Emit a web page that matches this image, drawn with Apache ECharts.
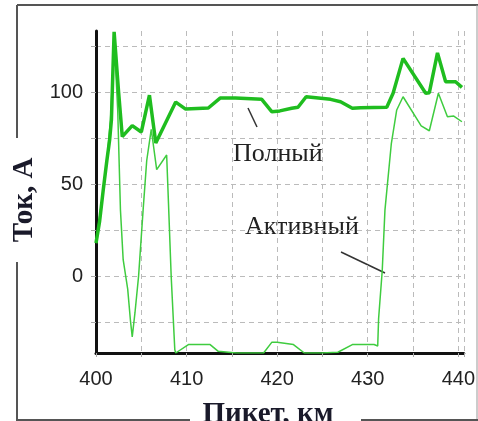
<!DOCTYPE html>
<html>
<head>
<meta charset="utf-8">
<script src="https://cdn.jsdelivr.net/npm/echarts@6/dist/echarts.min.js"></script>
<style>
  html, body { margin: 0; padding: 0; background: #fff; }
  #chart { width: 478px; height: 421px; }
</style>
</head>
<body>
<div id="chart"></div>
<script>
// Полный ток
const fullKm = [400, 400.4, 400.8, 401.2, 401.5, 401.7, 402, 402.5, 402.9, 404, 405, 405.9, 406.6, 408.8, 409.9, 412.4, 413.7, 415.4, 418.3, 419.4, 420.3, 421.6, 422.3, 423.2, 425.9, 427, 428.3, 429.2, 432.1, 432.8, 433.9, 436.4, 436.8, 437.7, 438.6, 439.7, 440.4];
const fullAmp = [18, 30, 47, 63, 74, 85, 133, 100, 76, 82, 78.5, 98.6, 72.5, 94.8, 91, 91.6, 97, 97, 96.3, 89.6, 90, 91.4, 92, 97.7, 96.3, 95, 91.4, 91.7, 92, 99.6, 118.6, 99.6, 99.9, 121.6, 105.9, 105.9, 102.8];
// Активный ток
const activeKm = [400, 400.8, 401.2, 401.6, 402, 402.2, 402.4, 402.7, 403, 403.5, 403.8, 404, 404.3, 404.7, 405.2, 405.6, 406.1, 406.7, 407.8, 408, 408.3, 408.7, 408.8, 410.2, 412.6, 413.5, 415.5, 418.5, 419.4, 420, 421.8, 423, 424.9, 426.7, 428.3, 430.7, 431.1, 431.2, 431.6, 431.9, 432.6, 433.2, 433.9, 435.9, 436.8, 437.8, 438.8, 439.5, 440.4];
const activeAmp = [18, 47, 63, 85, 125, 110, 90, 36, 9, -7, -24, -33, -20, 0, 36, 63, 80, 58, 66, 40, 0, -40, -41.8, -37.2, -37.2, -40.9, -41.8, -41.8, -36, -36, -37.2, -41.8, -41.8, -41.4, -37.2, -37.2, -38, -23, 3, 36, 72, 90.5, 97.7, 81.8, 79.2, 99.6, 86.8, 87.2, 84.1];

const xTicks = [400, 410, 420, 430, 440];
const yTicks = [0, 50, 100];
const yGrid = [-25, 0, 25, 50, 75, 100, 125];

const chart = echarts.init(document.getElementById('chart'));

const pairs = (xs, ys) => xs.map((x, i) => [x, ys[i]]);
const serif = '"Liberation Serif", "DejaVu Serif", serif';
const frame = '#555';

chart.setOption({
    backgroundColor: '#fff',
    animation: false,
    grid: { left: 96, right: 8, top: 31, bottom: 68 },
    xAxis: {
        type: 'value',
        min: 400,
        max: 440.6,
        interval: 5,
        axisLine: { onZero: false, lineStyle: { color: '#111', width: 3 } },
        axisTick: { show: true, length: 5, lineStyle: { color: '#aaa', type: 'dashed' } },
        axisLabel: {
            margin: 16,
            fontFamily: '"Liberation Sans", Arial, sans-serif',
            fontSize: 20,
            color: '#222',
            formatter: v => xTicks.includes(v) ? String(v) : ''
        },
        splitLine: { show: true, lineStyle: { color: '#bbb', type: [5, 4], width: 1 } }
    },
    yAxis: {
        type: 'value',
        min: -41.8,
        max: 133.5,
        axisLine: { show: true, lineStyle: { color: '#111', width: 3 } },
        axisTick: { show: true, length: 5, customValues: yGrid, lineStyle: { color: '#aaa' } },
        axisLabel: {
            customValues: yTicks,
            margin: 13,
            fontFamily: '"Liberation Sans", Arial, sans-serif',
            fontSize: 20,
            color: '#222'
        },
        splitLine: { show: true, lineStyle: { color: '#bbb', type: [5, 4], width: 1 } }
    },
    series: [
        {
            name: 'Полный',
            type: 'line',
            data: pairs(fullKm, fullAmp),
            symbol: 'none',
            lineStyle: { color: '#1fbd1f', width: 3.5 },
            z: 3
        },
        {
            name: 'Активный',
            type: 'line',
            data: pairs(activeKm, activeAmp),
            symbol: 'none',
            lineStyle: { color: '#3fcc3f', width: 1.5 },
            z: 2
        }
    ],
    graphic: [
        // рамка
        { type: 'line', shape: { x1: 17, y1: 5, x2: 478, y2: 5 }, style: { stroke: frame, lineWidth: 2 } },
        { type: 'line', shape: { x1: 477, y1: 5, x2: 477, y2: 421 }, style: { stroke: '#999', lineWidth: 1 } },
        { type: 'line', shape: { x1: 17, y1: 5, x2: 17, y2: 138 }, style: { stroke: frame, lineWidth: 2 } },
        { type: 'line', shape: { x1: 17, y1: 262, x2: 17, y2: 421 }, style: { stroke: frame, lineWidth: 2 } },
        { type: 'line', shape: { x1: 17, y1: 420, x2: 190, y2: 420 }, style: { stroke: frame, lineWidth: 2 } },
        { type: 'line', shape: { x1: 361, y1: 420, x2: 478, y2: 420 }, style: { stroke: frame, lineWidth: 2 } },
        // подписи осей
        {
            type: 'text', x: 25, y: 200, rotation: Math.PI / 2,
            style: { text: 'Ток, А', font: 'bold 29px ' + serif, fill: '#1a1a2a', align: 'center', verticalAlign: 'middle' }
        },
        {
            type: 'text', x: 268, y: 415,
            style: { text: 'Пикет, км', font: 'bold 29px ' + serif, fill: '#1a1a2a', align: 'center', verticalAlign: 'middle' }
        },
        // выноски
        {
            type: 'text', x: 233, y: 154,
            style: { text: 'Полный', font: '26px ' + serif, fill: '#222', align: 'left', verticalAlign: 'middle' }
        },
        { type: 'line', shape: { x1: 248, y1: 108, x2: 257, y2: 127 }, style: { stroke: '#333', lineWidth: 1.5 } },
        {
            type: 'text', x: 245, y: 227,
            style: { text: 'Активный', font: '26px ' + serif, fill: '#222', align: 'left', verticalAlign: 'middle' }
        },
        { type: 'line', shape: { x1: 341, y1: 252, x2: 385, y2: 273 }, style: { stroke: '#333', lineWidth: 1.5 } }
    ]
});
</script>
</body>
</html>
